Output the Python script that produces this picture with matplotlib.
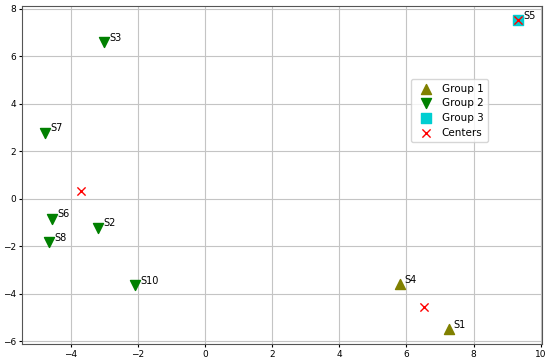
import matplotlib
matplotlib.use('Agg')
import matplotlib.pyplot as plt

# sample points per group
names = ['S1', 'S2', 'S3', 'S4', 'S5', 'S6', 'S7', 'S8', 'S10']
xs = [7.26, -3.18, -3.01, 5.80, 9.32, -4.55, -4.76, -4.64, -2.08]
ys = [-5.49, -1.22, 6.58, -3.59, 7.51, -0.84, 2.78, -1.81, -3.63]
groups = [1, 2, 2, 1, 3, 2, 2, 2, 2]

center_x = [6.53, -3.70, 9.32]
center_y = [-4.54, 0.31, 7.51]

styles = {1: ('^', '#808000', 'Group 1'),
          2: ('v', '#008000', 'Group 2'),
          3: ('s', '#00CED1', 'Group 3')}


def main():
    fig, ax = plt.subplots(figsize=(5.5, 3.63), dpi=100)
    for g, (m, c, lab) in styles.items():
        gx = [x for x, k in zip(xs, groups) if k == g]
        gy = [y for y, k in zip(ys, groups) if k == g]
        ax.scatter(gx, gy, marker=m, color=c, s=52, label=lab, zorder=3)
    ax.scatter(center_x, center_y, marker='x', color='red', s=35,
               linewidths=1, label='Centers', zorder=4)
    for n, x, y in zip(names, xs, ys):
        ax.text(x + 0.15, y + 0.05, n, fontsize=7, zorder=5)

    ax.set_xlim(-5.45, 10.03)
    ax.set_ylim(-6.12, 8.1)
    ax.set_xticks(range(-4, 11, 2))
    ax.set_yticks(range(-6, 9, 2))
    ax.tick_params(labelsize=6.5, length=2, pad=2)
    ax.grid(True, color='#c4c4c4', linewidth=0.8)
    ax.set_axisbelow(True)
    for sp in ax.spines.values():
        sp.set_color('#555555')
    ax.legend(loc='upper left', bbox_to_anchor=(0.748, 0.785), fontsize=7.5,
              framealpha=0.8, borderpad=0.45, labelspacing=0.45,
              handletextpad=0.5, borderaxespad=0)
    fig.subplots_adjust(left=0.04, right=0.985, bottom=0.052, top=0.983)
    plt.savefig('out.png')


if __name__ == "__main__":
    main()
